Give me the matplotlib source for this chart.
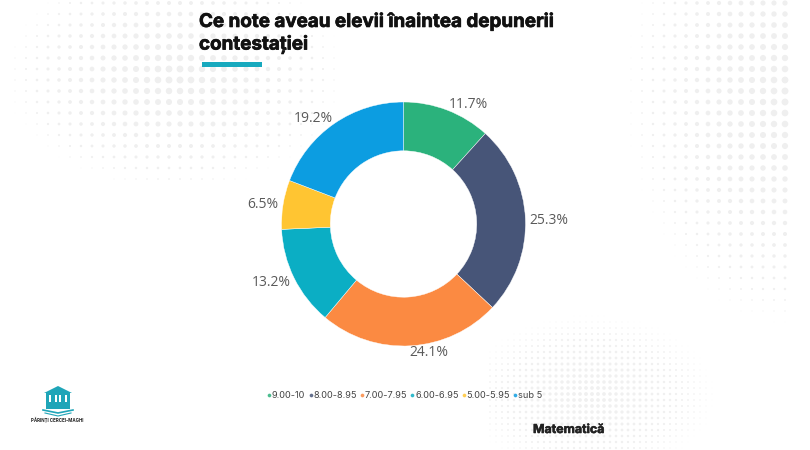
import numpy as np
import matplotlib
matplotlib.use("Agg")
import matplotlib.pyplot as plt
import matplotlib.patheffects as pe
from matplotlib.lines import Line2D
from matplotlib.patches import Rectangle, Polygon

categories = ["9.00-10", "8.00-8.95", "7.00-7.95", "6.00-6.95", "5.00-5.95", "sub 5"]
values = [11.7, 25.3, 24.1, 13.2, 6.5, 19.2]
colors = ["#2BB27C", "#475578", "#FB8A42", "#0BAEC4", "#FFC532", "#0C9DE1"]
title = "Ce note aveau elevii înaintea depunerii\ncontestației"
subject = "Matematică"
org = "PĂRINȚI CERCEI-MAGHI"

W, H = 810, 450
fig = plt.figure(figsize=(W / 100, H / 100), dpi=100, facecolor="white")

# faint dotted background
bg = fig.add_axes([0, 0, 1, 1], zorder=0)
bg.set_xlim(0, W); bg.set_ylim(H, 0); bg.axis("off")
gx, gy = np.meshgrid(np.arange(4, W, 11), np.arange(3, H, 11))
gx = gx.ravel().astype(float); gy = gy.ravel().astype(float)
s1 = np.clip(1 - np.hypot((gx - 175) / 170, (gy - 75) / 115), 0, 1)
s2 = np.clip(1 - np.hypot((gx - 790) / 165, (gy - 95) / 230), 0, 1)
s = np.maximum(s1, s2) * (gx < 790)
bg.scatter(gx, gy, s=26 * s ** 1.2, color="#EFEFEF", linewidths=0)
hx, hy = np.meshgrid(np.arange(490, 740, 6), np.arange(310, H, 6))
hx = hx.ravel().astype(float); hy = hy.ravel().astype(float)
s3 = np.clip(1 - np.hypot((hx - 590) / 125, (hy - 395) / 80), 0, 1)
bg.scatter(hx, hy, s=8 * s3, color="#F0F0F0", linewidths=0)

# donut
R = 122
ax = fig.add_axes([(403.5 - R) / W, 1 - (224 + R) / H, 2 * R / W, 2 * R / H], zorder=2)
ax.pie(values, colors=colors, startangle=90, counterclock=False, radius=1,
       wedgeprops=dict(width=0.4, edgecolor="white", linewidth=0.3))
ax.set_xlim(-1, 1); ax.set_ylim(-1, 1)

label_px = [(468, 105), (549, 220), (429, 353), (271, 282), (263, 204), (313, 118)]
for v, (px, py) in zip(values, label_px):
    fig.text(px / W, 1 - py / H, f"{v}%", ha="center", va="center",
             fontsize=10, color="#5A5A5A", family="Open Sans", zorder=5)

# title
thick = [pe.withStroke(linewidth=0.5, foreground="#111111")]
fig.text(199 / W, 1 - 33 / H, title, ha="left", va="center", fontsize=13.55,
         fontweight="bold", family="Inter", color="#111111", linespacing=1.24,
         path_effects=thick)
fig.add_artist(Rectangle((202 / W, 1 - 67 / H), 60 / W, 5 / H, transform=fig.transFigure,
                         color="#17A9BE", lw=0))

# legend
handles = [Line2D([], [], ls="none", marker="o", ms=1.7, color=c, alpha=0.75) for c in colors]
fig.legend(handles, categories, loc="center", bbox_to_anchor=(403.5 / W, 1 - 396 / H), ncol=6,
           frameon=False, prop=dict(family="Inter", size=6.6), labelcolor="#444444",
           handletextpad=-0.2, columnspacing=0.07, handlelength=1.0, borderpad=0)

fig.text(533 / W, 1 - 430 / H, subject, ha="left", va="center", fontsize=8.9,
         fontweight="bold", family="Inter", color="#222222",
         path_effects=[pe.withStroke(linewidth=0.4, foreground="#222222")])

# logo
lg = "#1FA5B8"
bg.add_patch(Rectangle((46, 392), 24, 17, color=lg, lw=0))
bg.add_patch(Polygon([(44, 393), (58, 386), (72, 393)], color=lg, lw=0))
for x in (49, 55, 59, 65):
    bg.add_patch(Rectangle((x, 395), 2, 7, color="white", lw=0))
bg.plot([43, 58, 73], [410, 413, 410], color=lg, lw=1.2)
bg.plot([45, 58, 71], [413, 416, 413], color=lg, lw=0.8)
bg.text(57.5, 419.5, org, ha="center", va="center", fontsize=3.2, fontweight="bold",
        family="Inter", color="#222222")

fig.savefig("out.png", dpi=100, facecolor="white")
